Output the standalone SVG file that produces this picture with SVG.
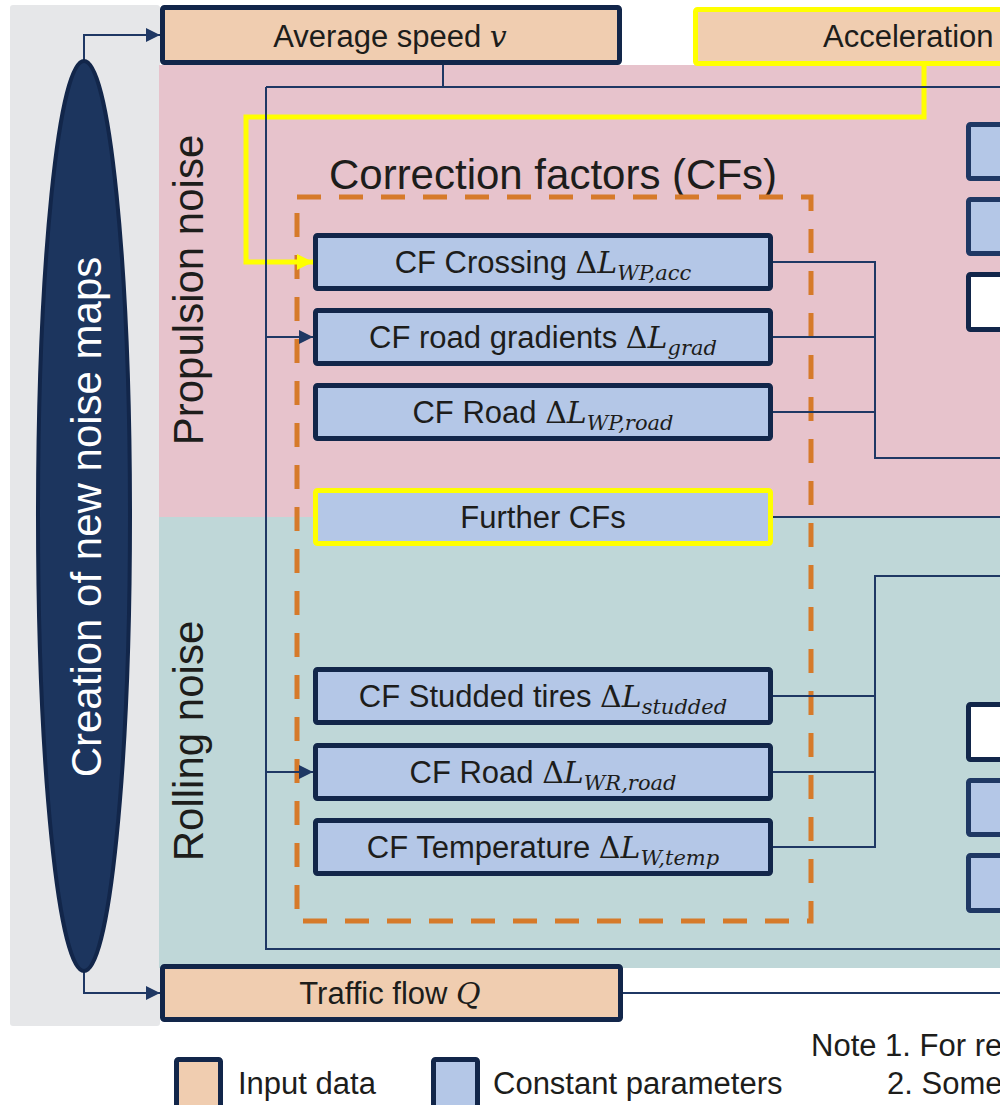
<svg xmlns="http://www.w3.org/2000/svg" width="1007" height="1105" viewBox="0 0 1007 1105">
<style>
.t{font-family:"Liberation Sans",Arial,sans-serif;font-size:31px;fill:#1d1d1b}
.lbl{font-family:"Liberation Sans",Arial,sans-serif;font-size:42px;fill:#1d1d1b}
.m{font-family:"DejaVu Serif","Liberation Serif",serif;font-style:italic;font-size:30px}
.d{font-family:"DejaVu Serif","Liberation Serif",serif;font-size:30px}
.s{font-family:"DejaVu Serif","Liberation Serif",serif;font-style:italic;font-size:21px}
.inp{fill:#f0cdb0;stroke:#12264a;stroke-width:5}
.cst{fill:#b4c7e7;stroke:#12264a;stroke-width:5}
.cst2{fill:#b4c7e7;stroke:#1f3864;stroke-width:5}
.wht{fill:#ffffff;stroke:#12264a;stroke-width:5}
.hl{stroke:#ffff00}
.ln{fill:none;stroke:#1f3864;stroke-width:2}
.yl{fill:none;stroke:#ffff00;stroke-width:5}
</style>
<defs>
<marker id="ah" markerUnits="userSpaceOnUse" markerWidth="14" markerHeight="14" refX="14" refY="7" orient="auto" viewBox="0 0 14 14"><path d="M0,0 L14,7 L0,14 z" fill="#1f3864"/></marker>
<marker id="ahy" markerUnits="userSpaceOnUse" markerWidth="16" markerHeight="16" refX="16" refY="8" orient="auto" viewBox="0 0 16 16"><path d="M0,0 L16,8 L0,16 z" fill="#ffff00"/></marker>
<clipPath id="cp"><rect x="0" y="0" width="1000" height="1105"/></clipPath>
</defs>
<rect width="1007" height="1105" fill="#ffffff"/>
<g clip-path="url(#cp)">
<g id="background">
<rect x="10" y="5" width="150" height="1021" rx="3" fill="#e6e7e9"/>
<rect x="159" y="65" width="850" height="452" fill="#e7c3cc"/>
<rect x="159" y="517" width="850" height="451" fill="#bfd7d8"/>
</g>
<g id="labels">
<text class="lbl" transform="translate(203,290) rotate(-90)" text-anchor="middle">Propulsion noise</text>
<text class="lbl" transform="translate(203,741) rotate(-90)" text-anchor="middle">Rolling noise</text>
<text class="lbl" x="553" y="189" text-anchor="middle">Correction factors (CFs)</text>
</g>
<g id="cf-group">
<rect x="297" y="197" width="514" height="724" fill="none" stroke="#d67a2a" stroke-width="5" stroke-dasharray="24 18"/>
</g>
<g id="connectors">
<path class="yl" d="M924,64 V117 H246 V262 H313" marker-end="url(#ahy)"/>
<path class="ln" d="M84,60 V35 H160" marker-end="url(#ah)"/>
<path class="ln" d="M84,972 V993 H160" marker-end="url(#ah)"/>
<path class="ln" d="M443,64 V87"/>
<path class="ln" d="M266,87 H1005"/>
<path class="ln" d="M266,87 V949 H1005"/>
<path class="ln" d="M266,337 H313" marker-end="url(#ah)"/>
<path class="ln" d="M266,772 H313" marker-end="url(#ah)"/>
<path class="ln" d="M773,262 H875 V458 H1005"/>
<path class="ln" d="M773,337 H875"/>
<path class="ln" d="M773,412 H875"/>
<path class="ln" d="M773,517 H1005"/>
<path class="ln" d="M1005,576 H875 V847 H773"/>
<path class="ln" d="M773,696 H875"/>
<path class="ln" d="M773,772 H875"/>
<path class="ln" d="M622,993 H1005"/>
</g>
<g id="creation">
<ellipse cx="84" cy="516" rx="46" ry="455" fill="#1c355e" stroke="#12264a" stroke-width="4"/>
<text class="lbl" transform="translate(101,517) rotate(-90)" text-anchor="middle" style="fill:#ffffff;font-size:42px">Creation of new noise maps</text>
</g>
<g id="average-speed">
<rect class="inp" x="162.5" y="7.5" width="457" height="55" rx="2"/>
<text class="t" x="390" y="47" text-anchor="middle">Average speed <tspan class="m">v</tspan></text>
</g>
<g id="acceleration">
<rect class="inp hl" x="695.5" y="9.5" width="340" height="54" rx="2"/>
<text class="t" x="823" y="47">Acceleration</text>
</g>
<g id="traffic-flow">
<rect class="inp" x="162.5" y="966.5" width="458" height="53" rx="2"/>
<text class="t" x="390" y="1004" text-anchor="middle">Traffic flow <tspan class="m">Q</tspan></text>
</g>
<g id="cf-crossing">
<rect class="cst" x="315.5" y="235.5" width="455" height="53" rx="2"/>
<text class="t" x="543" y="273" text-anchor="middle">CF Crossing <tspan class="d">Δ</tspan><tspan class="m">L</tspan><tspan class="s" dy="7">WP,acc</tspan></text>
</g>
<g id="cf-gradients">
<rect class="cst" x="315.5" y="310.5" width="455" height="53" rx="2"/>
<text class="t" x="543" y="348" text-anchor="middle">CF road gradients <tspan class="d">Δ</tspan><tspan class="m">L</tspan><tspan class="s" dy="7">grad</tspan></text>
</g>
<g id="cf-road-wp">
<rect class="cst" x="315.5" y="385.5" width="455" height="53" rx="2"/>
<text class="t" x="543" y="423" text-anchor="middle">CF Road <tspan class="d">Δ</tspan><tspan class="m">L</tspan><tspan class="s" dy="7">WP,road</tspan></text>
</g>
<g id="further-cfs">
<rect class="cst hl" x="315.5" y="490.5" width="455" height="53" rx="2"/>
<text class="t" x="543" y="528" text-anchor="middle">Further CFs</text>
</g>
<g id="cf-studded">
<rect class="cst" x="315.5" y="669.5" width="455" height="53" rx="2"/>
<text class="t" x="543" y="707" text-anchor="middle">CF Studded tires <tspan class="d">Δ</tspan><tspan class="m">L</tspan><tspan class="s" dy="7">studded</tspan></text>
</g>
<g id="cf-road-wr">
<rect class="cst" x="315.5" y="745.5" width="455" height="53" rx="2"/>
<text class="t" x="543" y="783" text-anchor="middle">CF Road <tspan class="d">Δ</tspan><tspan class="m">L</tspan><tspan class="s" dy="7">WR,road</tspan></text>
</g>
<g id="cf-temperature">
<rect class="cst" x="315.5" y="820.5" width="455" height="53" rx="2"/>
<text class="t" x="543" y="858" text-anchor="middle">CF Temperature <tspan class="d">Δ</tspan><tspan class="m">L</tspan><tspan class="s" dy="7">W,temp</tspan></text>
</g>
<g id="right-p1"><rect class="cst2" x="968.5" y="124.5" width="80" height="54" rx="2"/></g>
<g id="right-p2"><rect class="cst2" x="968.5" y="199.5" width="80" height="54" rx="2"/></g>
<g id="right-p3"><rect class="wht" x="968.5" y="274.5" width="80" height="55" rx="2"/></g>
<g id="right-r1"><rect class="wht" x="968.5" y="704.5" width="80" height="55" rx="2"/></g>
<g id="right-r2"><rect class="cst2" x="968.5" y="780.5" width="80" height="54" rx="2"/></g>
<g id="right-r3"><rect class="cst2" x="968.5" y="855.5" width="80" height="55" rx="2"/></g>
<g id="legend">
<rect class="inp" x="176.5" y="1059.5" width="44" height="48" rx="2"/>
<text class="t" x="238" y="1094">Input data</text>
<rect class="cst" x="433.5" y="1059.5" width="44" height="48" rx="2"/>
<text class="t" x="493" y="1094">Constant parameters</text>
<text class="t" x="811" y="1056">Note 1. For re</text>
<text class="t" x="887" y="1094">2. Some</text>
</g>
</g>
</svg>
